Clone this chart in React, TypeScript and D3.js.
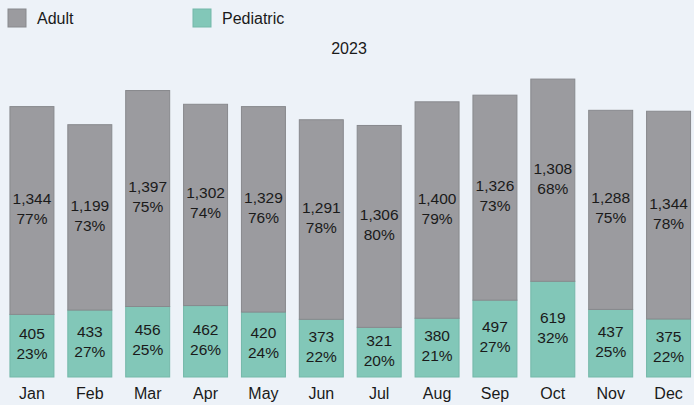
import React, { useEffect, useRef } from 'react';
import * as d3 from 'd3';

const months = ['Jan', 'Feb', 'Mar', 'Apr', 'May', 'Jun', 'Jul', 'Aug', 'Sep', 'Oct', 'Nov', 'Dec'];
const adult = [1344, 1199, 1397, 1302, 1329, 1291, 1306, 1400, 1326, 1308, 1288, 1344];
const pediatric = [405, 433, 456, 462, 420, 373, 321, 380, 497, 619, 437, 375];
const adultPct = ['77%', '73%', '75%', '74%', '76%', '78%', '80%', '79%', '73%', '68%', '75%', '78%'];
const pediatricPct = ['23%', '27%', '25%', '26%', '24%', '22%', '20%', '21%', '27%', '32%', '25%', '22%'];
const seriesNames = ['Adult', 'Pediatric'];
const title = '2023';

const W = 694;
const H = 405;
const colors = { Adult: '#9b9b9f', Pediatric: '#82c7b8' };
const font = '"Liberation Sans", Arial, sans-serif';

const App = () => {
  const svgRef = useRef<SVGSVGElement>(null);

  useEffect(() => {
    document.body.style.margin = '0';
    const svg = d3.select(svgRef.current);
    svg.selectAll('*').remove();

    svg.append('rect').attr('width', W).attr('height', H).attr('fill', '#edf2f8');

    const x = d3.scaleBand().domain(months).range([3, 697.5]).paddingInner(0.24).paddingOuter(0.12);
    const y = d3.scaleLinear().domain([0, 2000]).range([377, 377 - 2000 * 0.1546]);

    const rows = months.map((m, i) => ({
      month: m,
      Adult: adult[i],
      Pediatric: pediatric[i],
      pct: { Adult: adultPct[i], Pediatric: pediatricPct[i] },
    }));

    // bottom-up: pediatric first, adult on top
    const stack = d3.stack<any>().keys(['Pediatric', 'Adult'])(rows);

    const fmt = d3.format(',');

    stack.forEach(layer => {
      const key = layer.key as 'Adult' | 'Pediatric';
      const g = svg.append('g');
      g.selectAll('rect')
        .data(layer)
        .join('rect')
        .attr('x', d => x(d.data.month)!)
        .attr('y', d => y(d[1]))
        .attr('width', x.bandwidth())
        .attr('height', d => y(d[0]) - y(d[1]))
        .attr('fill', colors[key])
        .attr('stroke', key === 'Adult' ? '#88898d' : '#74b8a9')
        .attr('stroke-width', 1);

      const labels = g.selectAll('text')
        .data(layer)
        .join('text')
        .attr('x', d => x(d.data.month)! + x.bandwidth() / 2)
        .attr('y', d => (y(d[0]) + y(d[1])) / 2)
        .attr('text-anchor', 'middle')
        .attr('font-family', font)
        .attr('font-size', 15.5)
        .attr('fill', '#1a1a1a');
      labels.append('tspan')
        .attr('x', d => x(d.data.month)! + x.bandwidth() / 2)
        .attr('dy', -6.5)
        .text(d => fmt(d.data[key]));
      labels.append('tspan')
        .attr('x', d => x(d.data.month)! + x.bandwidth() / 2)
        .attr('dy', 20)
        .text(d => d.data.pct[key]);
    });

    // month labels
    svg.append('g')
      .selectAll('text')
      .data(months)
      .join('text')
      .attr('x', d => x(d)! + x.bandwidth() / 2)
      .attr('y', 399)
      .attr('text-anchor', 'middle')
      .attr('font-family', font)
      .attr('font-size', 16)
      .attr('fill', '#1a1a1a')
      .text(d => d);

    // legend
    const legendX = [8, 193];
    seriesNames.forEach((name, i) => {
      svg.append('rect')
        .attr('x', legendX[i])
        .attr('y', 9)
        .attr('width', 18)
        .attr('height', 18)
        .attr('fill', colors[name as 'Adult' | 'Pediatric'])
        .attr('stroke', name === 'Adult' ? '#88898d' : '#74b8a9');
      svg.append('text')
        .attr('x', legendX[i] + 29)
        .attr('y', 24)
        .attr('font-family', font)
        .attr('font-size', 16)
        .attr('fill', '#1a1a1a')
        .text(name);
    });

    svg.append('text')
      .attr('x', 349)
      .attr('y', 54)
      .attr('text-anchor', 'middle')
      .attr('font-family', font)
      .attr('font-size', 16)
      .attr('fill', '#1a1a1a')
      .text(title);
  }, []);

  return <svg ref={svgRef} width={W} height={H} style={{ display: 'block' }} />;
};

export default App;
